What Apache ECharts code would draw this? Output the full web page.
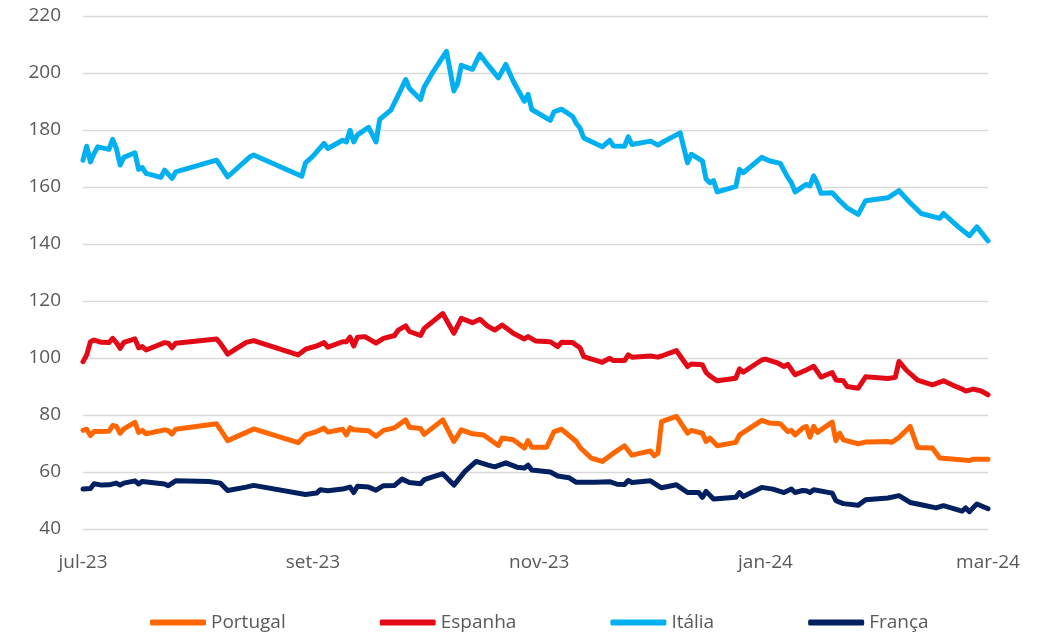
<!DOCTYPE html>
<html>
<head>
<meta charset="utf-8">
<script src="https://cdn.jsdelivr.net/npm/echarts@6/dist/echarts.min.js"></script>
<style>
  html, body { margin: 0; padding: 0; background: #ffffff; }
  #chart { width: 1038px; height: 638px; }
</style>
</head>
<body>
<div id="chart"></div>
<script>
// ---- Data ----
const seriesNames = ['Portugal', 'Espanha', 'Itália', 'França'];

const xTickDates  = ['2023-07-01', '2023-09-01', '2023-11-01', '2024-01-01', '2024-03-01'];
const xTickLabels = ['jul-23', 'set-23', 'nov-23', 'jan-24', 'mar-24'];
const yTicks = [40, 60, 80, 100, 120, 140, 160, 180, 200, 220];

const portugal = [
  ['2023-07-01',74.6],['2023-07-02',75.0],['2023-07-03',72.8],['2023-07-04',74.2],['2023-07-08',74.3],
  ['2023-07-09',76.3],['2023-07-10',76.0],['2023-07-11',73.6],['2023-07-12',75.1],['2023-07-15',77.4],
  ['2023-07-16',73.9],['2023-07-17',74.6],['2023-07-18',73.4],['2023-07-23',74.8],['2023-07-24',74.5],
  ['2023-07-25',73.3],['2023-07-26',75.0],['2023-08-06',76.9],['2023-08-07',75.0],['2023-08-09',71.0],
  ['2023-08-14',73.9],['2023-08-16',75.1],['2023-08-28',70.3],['2023-08-30',73.0],['2023-09-02',74.2],
  ['2023-09-04',75.4],['2023-09-05',74.0],['2023-09-09',75.0],['2023-09-10',73.0],['2023-09-11',75.5],
  ['2023-09-12',74.8],['2023-09-16',74.5],['2023-09-18',72.5],['2023-09-20',74.6],['2023-09-23',75.5],
  ['2023-09-26',78.3],['2023-09-27',75.7],['2023-09-30',75.3],['2023-10-01',73.2],['2023-10-06',78.3],
  ['2023-10-09',70.7],['2023-10-11',74.8],['2023-10-14',73.4],['2023-10-17',73.0],['2023-10-21',69.3],
  ['2023-10-22',71.9],['2023-10-25',71.3],['2023-10-28',68.4],['2023-10-29',71.0],['2023-10-30',68.7],
  ['2023-11-03',68.7],['2023-11-05',74.2],['2023-11-07',75.0],['2023-11-11',70.7],['2023-11-12',68.6],
  ['2023-11-15',64.9],['2023-11-18',63.7],['2023-11-21',66.6],['2023-11-24',69.2],['2023-11-26',65.9],
  ['2023-12-01',67.4],['2023-12-02',65.7],['2023-12-03',66.6],['2023-12-04',77.7],['2023-12-08',79.5],
  ['2023-12-11',73.6],['2023-12-12',74.6],['2023-12-15',73.6],['2023-12-16',70.7],['2023-12-17',71.9],
  ['2023-12-19',69.2],['2023-12-24',70.4],['2023-12-25',73.0],['2023-12-31',78.1],['2024-01-02',77.2],
  ['2024-01-05',76.9],['2024-01-07',74.2],['2024-01-08',74.6],['2024-01-09',73.0],['2024-01-11',75.4],
  ['2024-01-12',76.0],['2024-01-13',72.2],['2024-01-14',76.0],['2024-01-15',73.9],['2024-01-19',77.5],
  ['2024-01-20',71.0],['2024-01-21',73.6],['2024-01-22',71.3],['2024-01-26',69.9],['2024-01-28',70.5],
  ['2024-02-03',70.7],['2024-02-04',70.4],['2024-02-06',72.1],['2024-02-09',76.0],['2024-02-11',68.6],
  ['2024-02-15',68.4],['2024-02-17',64.9],['2024-02-25',64.0],['2024-02-26',64.5],['2024-03-01',64.5]
];

const espanha = [
  ['2023-07-01',98.7],['2023-07-02',101.1],['2023-07-03',105.7],['2023-07-04',106.3],['2023-07-06',105.5],
  ['2023-07-08',105.4],['2023-07-09',106.9],['2023-07-10',105.4],['2023-07-11',103.4],['2023-07-12',105.5],
  ['2023-07-15',106.7],['2023-07-16',103.6],['2023-07-17',104.0],['2023-07-18',102.8],['2023-07-23',105.4],
  ['2023-07-24',105.2],['2023-07-25',103.6],['2023-07-26',105.2],['2023-08-06',106.7],['2023-08-07',105.2],
  ['2023-08-09',101.4],['2023-08-14',105.5],['2023-08-16',106.1],['2023-08-28',101.1],['2023-08-30',103.1],
  ['2023-09-02',104.2],['2023-09-04',105.4],['2023-09-05',103.8],['2023-09-09',105.7],['2023-09-10',105.7],
  ['2023-09-11',107.3],['2023-09-12',104.2],['2023-09-13',107.3],['2023-09-15',107.5],['2023-09-18',105.2],
  ['2023-09-20',106.9],['2023-09-23',107.9],['2023-09-24',109.8],['2023-09-26',111.3],['2023-09-27',109.3],
  ['2023-09-30',107.9],['2023-10-01',110.4],['2023-10-06',115.6],['2023-10-09',108.7],['2023-10-11',113.9],
  ['2023-10-14',112.4],['2023-10-16',113.6],['2023-10-18',111.3],['2023-10-20',109.8],['2023-10-22',111.6],
  ['2023-10-25',108.7],['2023-10-28',106.7],['2023-10-29',107.5],['2023-10-31',106.0],['2023-11-04',105.7],
  ['2023-11-06',104.0],['2023-11-07',105.5],['2023-11-10',105.4],['2023-11-12',103.6],['2023-11-13',100.5],
  ['2023-11-18',98.5],['2023-11-20',99.9],['2023-11-21',99.1],['2023-11-24',99.1],['2023-11-25',101.1],
  ['2023-11-26',100.3],['2023-12-01',100.7],['2023-12-03',100.3],['2023-12-04',100.7],['2023-12-08',102.6],
  ['2023-12-09',100.7],['2023-12-11',97.0],['2023-12-12',97.9],['2023-12-15',97.6],['2023-12-16',94.9],
  ['2023-12-17',93.7],['2023-12-19',92.0],['2023-12-24',92.9],['2023-12-25',96.2],['2023-12-26',95.0],
  ['2023-12-31',99.3],['2024-01-01',99.6],['2024-01-04',98.4],['2024-01-06',97.0],['2024-01-07',97.8],
  ['2024-01-09',94.1],['2024-01-12',95.8],['2024-01-14',97.1],['2024-01-16',93.3],['2024-01-19',94.9],
  ['2024-01-20',92.3],['2024-01-22',92.0],['2024-01-23',90.0],['2024-01-26',89.4],['2024-01-28',93.4],
  ['2024-02-03',92.8],['2024-02-05',93.2],['2024-02-06',98.8],['2024-02-08',95.7],['2024-02-11',92.2],
  ['2024-02-15',90.6],['2024-02-18',92.0],['2024-02-21',90.2],['2024-02-23',89.1],['2024-02-24',88.4],
  ['2024-02-26',89.1],['2024-02-28',88.5],['2024-03-01',87.1]
];

const italia = [
  ['2023-07-01',169.4],['2023-07-02',174.3],['2023-07-03',168.8],['2023-07-04',171.8],['2023-07-05',174.1],
  ['2023-07-08',173.2],['2023-07-09',176.7],['2023-07-10',173.5],['2023-07-11',167.7],['2023-07-12',170.4],
  ['2023-07-15',172.0],['2023-07-16',166.2],['2023-07-17',166.8],['2023-07-18',164.8],['2023-07-22',163.4],
  ['2023-07-23',165.9],['2023-07-25',163.0],['2023-07-26',165.3],['2023-08-06',169.4],['2023-08-09',163.6],
  ['2023-08-15',170.6],['2023-08-16',171.2],['2023-08-29',163.8],['2023-08-30',168.5],['2023-09-01',170.8],
  ['2023-09-04',175.3],['2023-09-05',173.5],['2023-09-09',176.4],['2023-09-10',175.8],['2023-09-11',179.9],
  ['2023-09-12',175.8],['2023-09-13',178.3],['2023-09-16',180.9],['2023-09-18',175.8],['2023-09-19',183.7],
  ['2023-09-22',187.0],['2023-09-24',192.2],['2023-09-26',197.7],['2023-09-27',194.6],['2023-09-30',190.7],
  ['2023-10-01',195.1],['2023-10-03',199.6],['2023-10-07',207.6],['2023-10-09',193.7],['2023-10-10',196.3],
  ['2023-10-11',202.7],['2023-10-14',201.3],['2023-10-16',206.6],['2023-10-18',203.1],['2023-10-21',198.3],
  ['2023-10-23',203.0],['2023-10-25',197.1],['2023-10-28',190.1],['2023-10-29',192.5],['2023-10-30',187.2],
  ['2023-11-04',183.4],['2023-11-05',186.4],['2023-11-07',187.3],['2023-11-10',184.8],['2023-11-11',182.3],
  ['2023-11-12',180.7],['2023-11-13',177.2],['2023-11-18',174.1],['2023-11-20',176.4],['2023-11-21',174.4],
  ['2023-11-24',174.3],['2023-11-25',177.6],['2023-11-26',174.9],['2023-12-01',176.1],['2023-12-03',174.7],
  ['2023-12-04',175.5],['2023-12-09',179.0],['2023-12-11',168.5],['2023-12-12',171.5],['2023-12-15',169.2],
  ['2023-12-16',162.8],['2023-12-17',161.5],['2023-12-18',162.2],['2023-12-19',158.3],['2023-12-24',160.1],
  ['2023-12-25',166.2],['2023-12-26',165.0],['2023-12-31',170.4],['2024-01-02',169.2],['2024-01-05',168.3],
  ['2024-01-07',163.4],['2024-01-08',161.5],['2024-01-09',158.3],['2024-01-12',160.9],['2024-01-13',160.4],
  ['2024-01-14',163.9],['2024-01-15',161.3],['2024-01-16',157.8],['2024-01-19',158.0],['2024-01-21',155.2],
  ['2024-01-23',152.7],['2024-01-26',150.4],['2024-01-28',155.2],['2024-02-03',156.2],['2024-02-06',158.7],
  ['2024-02-09',154.5],['2024-02-12',150.7],['2024-02-17',149.0],['2024-02-18',150.7],['2024-02-22',146.0],
  ['2024-02-25',142.9],['2024-02-27',146.0],['2024-03-01',141.1]
];

const franca = [
  ['2023-07-01',54.0],['2023-07-03',54.2],['2023-07-04',55.9],['2023-07-06',55.4],['2023-07-08',55.5],
  ['2023-07-10',56.1],['2023-07-11',55.4],['2023-07-12',56.1],['2023-07-15',56.9],['2023-07-16',55.8],
  ['2023-07-17',56.7],['2023-07-23',55.8],['2023-07-24',55.2],['2023-07-26',56.9],['2023-08-04',56.7],
  ['2023-08-07',56.1],['2023-08-09',53.5],['2023-08-14',54.7],['2023-08-16',55.3],['2023-08-30',52.1],
  ['2023-09-02',52.6],['2023-09-03',53.8],['2023-09-05',53.4],['2023-09-09',54.0],['2023-09-11',54.7],
  ['2023-09-12',52.8],['2023-09-13',55.0],['2023-09-16',54.7],['2023-09-18',53.6],['2023-09-20',55.2],
  ['2023-09-23',55.3],['2023-09-25',57.5],['2023-09-27',56.3],['2023-09-30',55.9],['2023-10-01',57.3],
  ['2023-10-06',59.4],['2023-10-09',55.4],['2023-10-12',60.2],['2023-10-15',63.7],['2023-10-18',62.5],
  ['2023-10-20',61.8],['2023-10-23',63.2],['2023-10-26',61.7],['2023-10-28',61.4],['2023-10-29',62.4],
  ['2023-10-30',60.7],['2023-11-04',60.0],['2023-11-06',58.6],['2023-11-09',58.0],['2023-11-11',56.4],
  ['2023-11-16',56.4],['2023-11-20',56.6],['2023-11-22',55.7],['2023-11-24',55.6],['2023-11-25',57.0],
  ['2023-11-26',56.3],['2023-12-01',56.9],['2023-12-03',55.2],['2023-12-04',54.5],['2023-12-08',55.5],
  ['2023-12-11',52.8],['2023-12-14',52.8],['2023-12-15',51.1],['2023-12-16',53.2],['2023-12-18',50.5],
  ['2023-12-24',51.1],['2023-12-25',52.8],['2023-12-26',51.4],['2023-12-31',54.6],['2024-01-03',54.0],
  ['2024-01-06',52.8],['2024-01-08',54.0],['2024-01-09',52.8],['2024-01-11',53.5],['2024-01-12',53.4],
  ['2024-01-13',52.8],['2024-01-14',53.8],['2024-01-19',52.6],['2024-01-20',49.9],['2024-01-22',48.9],
  ['2024-01-26',48.3],['2024-01-28',50.3],['2024-02-03',50.9],['2024-02-06',51.7],['2024-02-09',49.3],
  ['2024-02-12',48.5],['2024-02-16',47.4],['2024-02-18',48.2],['2024-02-23',46.3],['2024-02-24',47.4],
  ['2024-02-25',46.1],['2024-02-27',48.8],['2024-03-01',47.1]
];

const seriesColors = ['#FF6600', '#E30A17', '#00B0F0', '#002060'];

// ---- Build ----
const DAY = 86400000;
function toTs(s) {
  const p = s.split('-').map(Number);
  return Date.UTC(p[0], p[1] - 1, p[2]);
}
const tickTs = xTickDates.map(toTs);
const allData = [portugal, espanha, italia, franca];

const FONT = '"Open Sans", "Noto Sans", sans-serif';
const TEXT_COLOR = '#595959';

const chart = echarts.init(document.getElementById('chart'), null, { renderer: 'canvas' });
chart.setOption({
  animation: false,
  backgroundColor: '#ffffff',
  textStyle: { fontFamily: FONT },
  grid: { left: 83, right: 50, top: 16, bottom: 109 },
  legend: {
    data: seriesNames,
    left: 150,
    top: 613,
    padding: 0,
    icon: 'roundRect',
    itemWidth: 56,
    itemHeight: 6,
    itemGap: 94,
    textStyle: { fontFamily: FONT, fontSize: 19, color: TEXT_COLOR }
  },
  xAxis: {
    type: 'value',
    min: tickTs[0],
    max: tickTs[tickTs.length - 1],
    axisLine: { show: false },
    axisTick: { show: false },
    splitLine: { show: false },
    axisLabel: {
      customValues: tickTs,
      showMinLabel: true,
      showMaxLabel: true,
      margin: 24,
      fontFamily: FONT,
      fontSize: 19,
      color: TEXT_COLOR,
      formatter: function (val) {
        let best = 0;
        for (let i = 1; i < tickTs.length; i++) {
          if (Math.abs(tickTs[i] - val) < Math.abs(tickTs[best] - val)) best = i;
        }
        return Math.abs(tickTs[best] - val) < DAY ? xTickLabels[best] : '';
      }
    }
  },
  yAxis: {
    type: 'value',
    min: yTicks[0],
    max: yTicks[yTicks.length - 1],
    interval: yTicks[1] - yTicks[0],
    axisLine: { show: false },
    axisTick: { show: false },
    splitLine: { show: true, lineStyle: { color: '#d9d9d9', width: 1.3 } },
    axisLabel: { margin: 22, fontFamily: FONT, fontSize: 19, color: TEXT_COLOR }
  },
  series: seriesNames.map(function (name, i) {
    return {
      name: name,
      type: 'line',
      showSymbol: false,
      symbol: 'none',
      color: seriesColors[i],
      lineStyle: { width: 5, color: seriesColors[i], cap: 'round', join: 'round' },
      data: allData[i].map(function (d) { return [toTs(d[0]), d[1]]; })
    };
  })
});
</script>
</body>
</html>
